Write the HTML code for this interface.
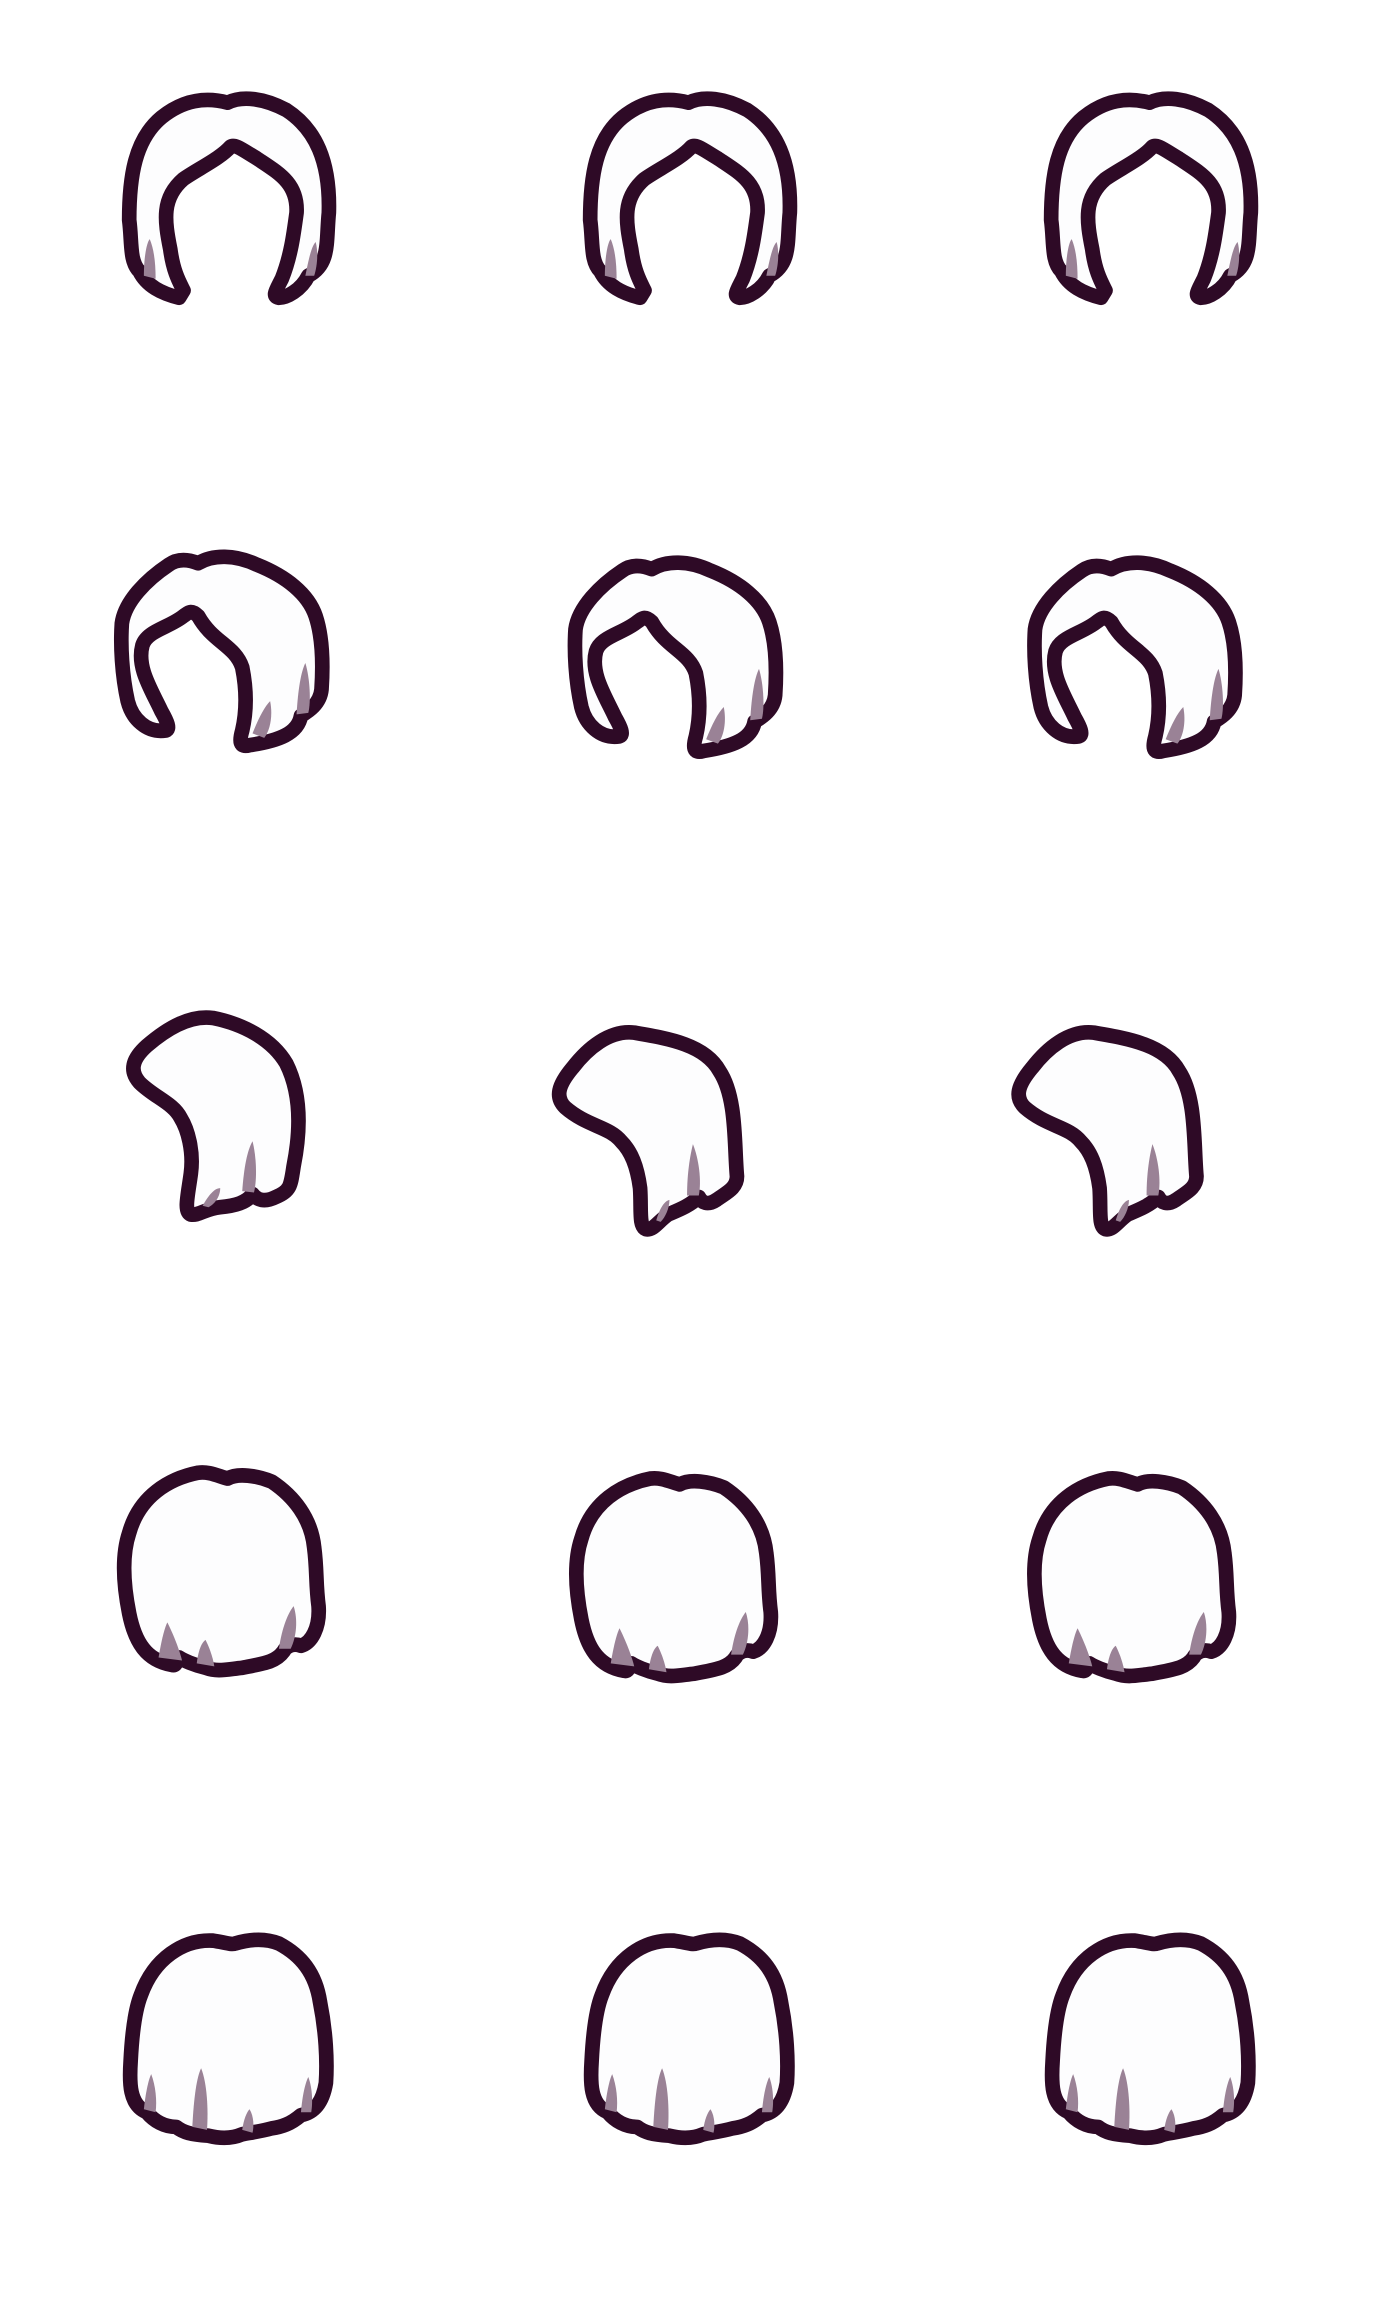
<!DOCTYPE html>
<html><head><meta charset="utf-8"><style>
html,body{margin:0;padding:0;background:#fff;width:1380px;height:2300px;overflow:hidden}
svg{display:block}
.o{fill:#fdfdfe;stroke:#2e0a26;stroke-width:10;stroke-linejoin:round;stroke-linecap:round}
.s{fill:#9a8296}
</style></head><body>
<svg width="1380" height="2300" viewBox="0 0 940 1568" preserveAspectRatio="none">
<defs>
<g id="h1">
<path class="o" d="M 122 203 C 110 200, 100 195, 95 185 C 88 178, 90 165, 88 150 C 88 120, 92 95, 110 80 C 125 68, 140 66, 155 70 C 165 65, 180 67, 195 75 C 215 88, 225 110, 224 145 C 222 165, 225 180, 210 188 C 205 198, 195 203, 190 203 C 185 202, 188 198, 192 190 C 198 175, 200 160, 202 145 C 203 125, 190 118, 175 108 C 165 102, 160 98, 157 100 C 150 108, 135 115, 125 122 C 110 135, 112 150, 116 170 C 118 185, 122 192, 125 198 Z"/>
<path class="s" d="M98 188 C98 175,100 165,102 163 C105 170,106 180,106 190 Z"/>
<path class="s" d="M208 188 C210 178,212 168,215 165 C217 172,216 182,214 188 Z"/>
</g>
<g id="h2">
<path class="o" d="M 113 498 C 100 500, 90 490, 87 478 C 83 460, 82 440, 83 425 C 85 410, 100 395, 115 385 C 122 380, 130 382, 135 384 C 145 378, 160 378, 175 385 C 195 393, 210 405, 215 420 C 220 435, 220 455, 219 470 C 218 480, 210 485, 205 488 C 203 500, 190 505, 170 508 C 163 510, 163 505, 165 498 C 168 485, 168 470, 165 455 C 160 440, 145 438, 135 420 C 130 415, 128 418, 125 420 C 115 428, 100 430, 97 440 C 93 455, 103 470, 110 485 C 114 492, 116 497, 113 498 Z"/>
<path class="s" d="M172 500 C176 490,180 482,184 478 C186 488,184 498,180 503 Z"/>
<path class="s" d="M202 487 C203 470,205 458,208 452 C211 462,212 478,210 486 Z"/>
</g>
<g id="h3a">
<path class="o" d="M 130 828 C 125 826, 128 815, 130 800 C 132 785, 128 770, 123 762 C 118 752, 105 748, 95 738 C 88 730, 90 722, 100 713 C 115 700, 130 692, 145 694 C 165 698, 185 708, 195 725 C 205 745, 205 770, 200 795 C 198 808, 198 812, 188 816 C 180 820, 175 818, 172 814 C 168 820, 160 822, 150 823 C 140 824, 135 829, 130 828 Z"/>
<path class="s" d="M165 812 C166 798,168 785,172 778 C175 790,175 805,173 813 Z"/>
<path class="s" d="M138 822 C142 815,146 810,150 810 C150 816,146 821,142 823 Z"/>
</g>
<g id="h3b">
<path class="o" d="M 440 838 C 435 836, 437 825, 436 810 C 434 795, 430 785, 423 778 C 415 768, 400 768, 385 755 C 378 748, 380 740, 390 728 C 400 715, 415 702, 432 704 C 455 708, 480 712, 490 730 C 502 748, 500 780, 502 802 C 502 810, 495 813, 488 818 C 482 822, 478 820, 476 816 C 470 822, 462 825, 455 828 C 448 833, 445 839, 440 838 Z"/>
<path class="s" d="M468 815 C468 800,470 788,472 780 C476 790,478 805,476 815 Z"/>
<path class="s" d="M447 832 C449 825,452 819,456 818 C456 824,453 830,450 833 Z"/>
</g>
<g id="h4">
<path class="o" d="M 117 1135 C 100 1132, 92 1120, 88 1100 C 84 1080, 83 1060, 88 1045 C 95 1020, 115 1008, 135 1004 C 142 1003, 148 1006, 155 1008 C 162 1004, 175 1006, 185 1010 C 200 1020, 212 1035, 214 1055 C 216 1070, 215 1080, 217 1095 C 218 1110, 212 1120, 205 1122 C 200 1120, 195 1122, 193 1126 C 188 1133, 180 1134, 165 1137 C 155 1138, 148 1140, 140 1137 C 132 1135, 125 1132, 122 1130 C 120 1133, 120 1136, 117 1135 Z"/>
<path class="s" d="M108 1130 C110 1118,112 1110,114 1106 C118 1114,122 1124,124 1132 Z"/>
<path class="s" d="M134 1134 C135 1126,137 1120,140 1118 C143 1124,145 1130,146 1136 Z"/>
<path class="s" d="M190 1124 C192 1110,196 1100,200 1095 C203 1104,202 1116,198 1124 Z"/>
</g>
<g id="h5">
<path class="o" d="M 100 1440 C 88 1435, 88 1420, 89 1405 C 90 1385, 92 1370, 96 1360 C 105 1335, 125 1322, 145 1323 C 152 1324, 158 1326, 160 1325 C 170 1322, 180 1321, 190 1325 C 205 1333, 215 1345, 218 1365 C 222 1385, 223 1405, 222 1420 C 220 1432, 215 1440, 205 1442 C 198 1448, 192 1450, 185 1451 C 178 1453, 170 1454, 165 1455 C 158 1458, 150 1458, 142 1456 C 130 1455, 125 1454, 120 1450 C 112 1450, 105 1446, 100 1440 Z"/>
<path class="s" d="M98 1438 C99 1428,101 1418,103 1414 C106 1422,107 1432,106 1440 Z"/>
<path class="s" d="M131 1450 C132 1430,134 1416,137 1410 C141 1420,142 1438,141 1452 Z"/>
<path class="s" d="M165 1452 C166 1445,168 1440,170 1438 C173 1443,173 1450,172 1454 Z"/>
<path class="s" d="M205 1440 C206 1428,208 1420,210 1416 C213 1424,213 1434,212 1440 Z"/>
</g>
</defs>
<use href="#h1"/>
<use href="#h1" transform="translate(314,0)"/>
<use href="#h1" transform="translate(628,0)"/>
<use href="#h2"/>
<use href="#h2" transform="translate(309,4)"/>
<use href="#h2" transform="translate(622,4)"/>
<use href="#h3a"/>
<use href="#h3b"/>
<use href="#h3b" transform="translate(313,0)"/>
<use href="#h4"/>
<use href="#h4" transform="translate(308,4)"/>
<use href="#h4" transform="translate(620,4)"/>
<use href="#h5"/>
<use href="#h5" transform="translate(314,0)"/>
<use href="#h5" transform="translate(628,0)"/>
</svg>
</body></html>
